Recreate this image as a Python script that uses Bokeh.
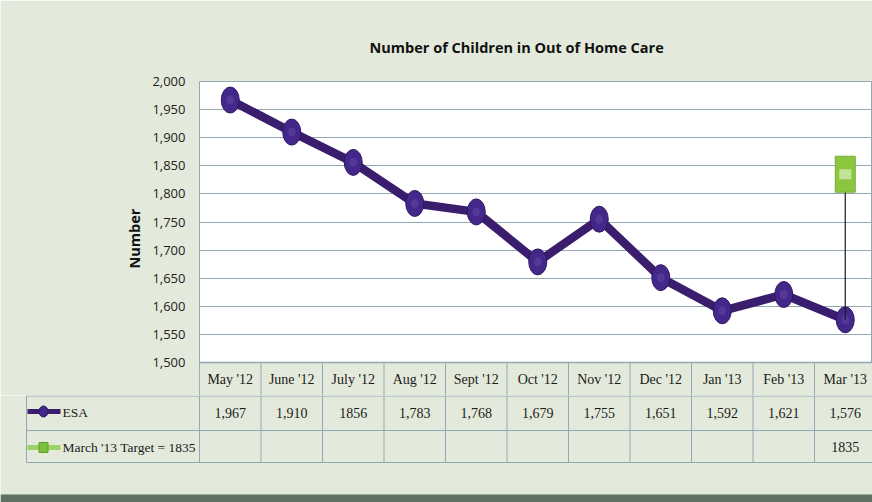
from bokeh.plotting import figure
from bokeh.models import Range1d, FixedTicker, NumeralTickFormatter
from bokeh.embed import file_html
from bokeh.resources import INLINE
from bokeh.core.properties import value

# ---- data ----
months = ["May '12", "June '12", "July '12", "Aug '12", "Sept '12", "Oct '12",
          "Nov '12", "Dec '12", "Jan '13", "Feb '13", "Mar '13"]
esa = [1967, 1910, 1856, 1783, 1768, 1679, 1755, 1651, 1592, 1621, 1576]
esa_table = ["1,967", "1,910", "1856", "1,783", "1,768", "1,679", "1,755",
             "1,651", "1,592", "1,621", "1,576"]
target_month = "Mar '13"
target_value = 1835
target_table = "1835"
y_ticks = [1500, 1550, 1600, 1650, 1700, 1750, 1800, 1850, 1900, 1950, 2000]
title_text = "Number of Children in Out of Home Care"
y_label = "Number"
series_names = ["ESA", "March '13 Target = 1835"]

# ---- layout constants (screen px) ----
W = 872
PLOT_LEFT = 199          # x where the first category column starts
COL_W = 61.5             # px per category column
X_END = (W - PLOT_LEFT) / COL_W
X_START = -PLOT_LEFT / COL_W
Y0, Y1 = 1500, 2000
FRAME_TOP = 81           # y of the 2,000 line
AXIS_BOTTOM = 362        # y of the 1,500 line
HEADER_H = 33            # category header row below the plot area
TOP_H = AXIS_BOTTOM + HEADER_H
BOT_H = 502 - TOP_H
PX_PER_UNIT = (AXIS_BOTTOM - FRAME_TOP) / (Y1 - Y0)
Y_EXT = Y0 - HEADER_H / PX_PER_UNIT

BG = "#e3eadb"
GRID = "#93a8b5"
PURPLE = "#3b1d6e"
PURPLE_FILL = "#44278a"
GREEN = "#8cc63f"
TXT = "#1a1a1a"
tf = value("Liberation Serif")

def cx(img_x):
    return (img_x - PLOT_LEFT) / COL_W

xs = [i + 0.5 for i in range(len(months))]
t_idx = months.index(target_month)

# ---- chart (with the category header row of the table) ----
p = figure(width=W, height=TOP_H, x_range=Range1d(0, X_END), y_range=Range1d(Y_EXT, Y1),
           x_axis_type=None, output_backend="svg", toolbar_location=None,
           min_border_left=PLOT_LEFT, min_border_right=0, min_border_top=FRAME_TOP,
           min_border_bottom=0, title=title_text)
p.background_fill_color = "white"
p.border_fill_color = BG
p.outline_line_color = GRID
p.outline_line_width = 1

p.title.align = "left"
p.title.offset = 170
p.title.standoff = 50
p.title.text_font = "Open Sans"
p.title.text_font_style = "bold"
p.title.text_font_size = "14.5px"
p.title.text_color = "#111111"

ya = p.yaxis[0]
ya.ticker = FixedTicker(ticks=y_ticks)
ya.formatter = NumeralTickFormatter(format="0,0")
ya.major_label_text_font = "Open Sans"
ya.major_label_text_font_size = "13px"
ya.major_label_text_color = "#222222"
ya.major_tick_line_color = None
ya.minor_tick_line_color = None
ya.major_tick_out = 0
ya.minor_tick_out = 0
ya.axis_line_color = None
ya.major_label_standoff = 14
ya.axis_label = y_label
ya.axis_label_text_font = "Open Sans"
ya.axis_label_text_font_style = "bold"
ya.axis_label_text_font_size = "14.5px"
ya.axis_label_text_color = "#111111"
ya.axis_label_standoff = 5

p.ygrid.grid_line_color = GRID
p.ygrid.grid_line_width = 1
p.ygrid.bounds = (Y0, Y1)
for g in p.xgrid:
    g.visible = False

# header row background and cells
p.quad(left=[0], right=[X_END], bottom=[Y_EXT], top=[Y0], fill_color=BG, line_color=None)
edges = list(range(len(months) + 1))
p.segment(x0=edges, y0=[Y_EXT] * len(edges), x1=edges, y1=[Y0] * len(edges),
          line_color=GRID, line_width=1)
p.segment(x0=[0], y0=[Y0], x1=[X_END], y1=[Y0], line_color=GRID, line_width=1.5)
p.text(xs, [(Y0 + Y_EXT) / 2] * len(xs), text=months, text_align="center",
       text_baseline="middle", text_font=tf, text_font_size="14px", text_color=TXT)

# series
p.line(xs, esa, line_width=8.5, line_color=PURPLE, line_join="round")
p.ellipse(xs, esa, width=18, height=26, width_units="screen", height_units="screen",
          fill_color=PURPLE_FILL, line_color="#32185e", line_width=1)
p.ellipse(xs, esa, width=8, height=9, width_units="screen", height_units="screen",
          fill_color="#6c52a8", fill_alpha=0.4, line_color=None)
p.segment(x0=[xs[t_idx]], y0=[esa[t_idx]], x1=[xs[t_idx]], y1=[target_value],
          line_color="#1a1a1a", line_width=1.2)
p.rect([xs[t_idx]], [target_value], width=20, height=36, width_units="screen",
       height_units="screen", fill_color=GREEN, line_color="#74ad3a", line_width=1)
p.rect([xs[t_idx]], [target_value], width=12, height=10, width_units="screen",
       height_units="screen", fill_color="#d9efbf", fill_alpha=0.7, line_color=None)

# ---- data table rows ----
q = figure(width=W, height=BOT_H, x_range=Range1d(X_START, X_END), y_range=Range1d(BOT_H, 0),
           x_axis_type=None, y_axis_type=None, output_backend="svg", toolbar_location=None,
           min_border=0)
q.background_fill_color = BG
q.border_fill_color = BG
q.outline_line_color = None
for g in list(q.xgrid) + list(q.ygrid):
    g.visible = False

left_edge = cx(26)
q.segment(x0=edges, y0=[0] * len(edges), x1=edges, y1=[67] * len(edges),
          line_color=GRID, line_width=1)
q.segment(x0=[left_edge], y0=[0], x1=[left_edge], y1=[67], line_color=GRID, line_width=1)
q.segment(x0=[left_edge] * 3, y0=[0.5, 35, 67], x1=[len(months)] * 3, y1=[0.5, 35, 67],
          line_color=GRID, line_width=1)

q.text(xs, [17] * len(xs), text=esa_table, text_align="center", text_baseline="middle",
       text_font=tf, text_font_size="14px", text_color=TXT)
q.text([xs[t_idx]], [51], text=[target_table], text_align="center", text_baseline="middle",
       text_font=tf, text_font_size="14px", text_color=TXT)

# legend keys
q.segment(x0=[cx(27)], y0=[16], x1=[cx(60)], y1=[16], line_color=PURPLE, line_width=5)
q.ellipse([cx(43)], [16], width=9, height=11, width_units="screen", height_units="screen",
          fill_color=PURPLE_FILL, line_color="#32185e")
q.segment(x0=[cx(27)], y0=[52], x1=[cx(60)], y1=[52], line_color="#9ad468", line_width=5)
q.rect([cx(43)], [52], width=9, height=10, width_units="screen", height_units="screen",
       fill_color="#7cbf3c", line_color="#5f9e2c")
q.text([cx(62), cx(62)], [17, 52], text=series_names, text_align="left",
       text_baseline="middle", text_font=tf, text_font_size="13.5px", text_color=TXT)

# bottom frame band
q.quad(left=[X_START], right=[X_END], bottom=[BOT_H], top=[BOT_H - 8], fill_color="#5f7261",
       line_color=None)

open("out.html", "w").write(file_html([p, q], INLINE))
